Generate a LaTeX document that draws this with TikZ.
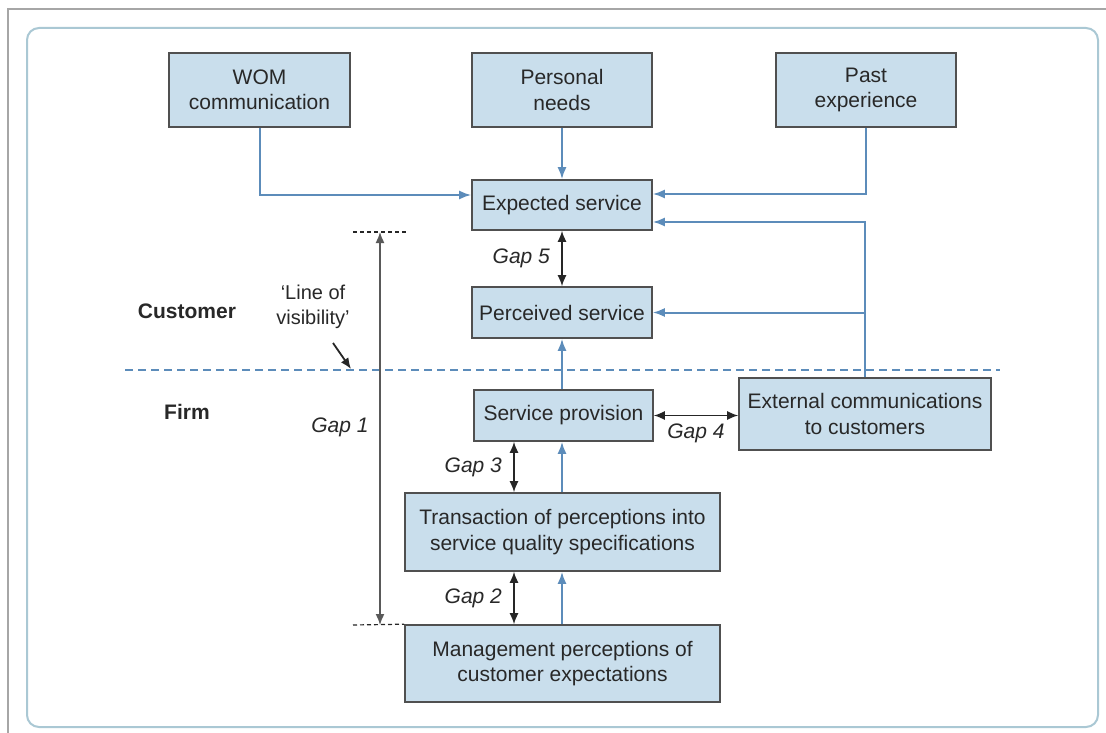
\documentclass[tikz,border=0pt]{standalone}
\usepackage{fontspec}
\setmainfont{Liberation Sans}
\usetikzlibrary{arrows.meta,calc}
\definecolor{boxfill}{RGB}{201,222,236}
\definecolor{boxline}{RGB}{80,80,80}
\definecolor{conblue}{RGB}{92,140,186}
\definecolor{frameblue}{RGB}{170,200,212}
\definecolor{txt}{RGB}{40,40,40}
\begin{document}
\begin{tikzpicture}[x=1pt,y=-1pt,
  every node/.style={text=txt,font=\fontsize{21}{25.5}\selectfont},
  sbox/.style={draw=boxline,line width=1.6pt,fill=boxfill,inner sep=0pt,align=center},
  bluecon/.style={draw=conblue,line width=2pt,-{Latex[length=12pt,width=9pt]}},
  gaparrow/.style={draw=black!85,line width=1.5pt,{Latex[length=11pt,width=9pt]}-{Latex[length=11pt,width=9pt]}},
  gaplabel/.style={font=\fontsize{21}{25}\selectfont\itshape},
  sidelabel/.style={font=\fontsize{21}{25}\selectfont\bfseries}]
\useasboundingbox (0,0) rectangle (1106,733);
\fill[white] (0,0) rectangle (1106,733);
% outer screenshot frame
\draw[gray!70,line width=1.5pt] (8,733) -- (8,9) -- (1106,9);
% rounded panel
\draw[frameblue,line width=2pt,rounded corners=12pt] (27,28) rectangle (1098,727);

% boxes
\node[sbox,minimum width=181pt,minimum height=74pt] (wom) at (259.5,90) {WOM\\communication};
\node[sbox,minimum width=180pt,minimum height=74pt] (pers) at (562,90) {Personal\\needs};
\node[sbox,minimum width=180pt,minimum height=74pt] (past) at (866,90) {Past\\experience};
\node[sbox,minimum width=180pt,minimum height=50pt] (exp) at (562,205) {Expected service};
\node[sbox,minimum width=180pt,minimum height=51pt] (perc) at (562,312.5) {Perceived service};
\node[sbox,minimum width=179pt,minimum height=51pt] (prov) at (563.5,415.5) {Service provision};
\node[sbox,minimum width=252pt,minimum height=72pt] (ext) at (865,414) {External communications\\to customers};
\node[sbox,minimum width=315pt,minimum height=78pt] (trans) at (562.5,532) {Transaction of perceptions into\\service quality specifications};
\node[sbox,minimum width=315pt,minimum height=77pt] (mgmt) at (562.5,663.5) {Management perceptions of\\customer expectations};

% line of visibility
\draw[conblue,line width=2.5pt,dash pattern=on 8pt off 5pt] (125,370) -- (1000,370);

% blue connectors
\coordinate (expL) at (exp.west |- 0,195);
\coordinate (expR1) at (exp.east |- 0,194);
\coordinate (expR2) at (exp.east |- 0,222);
\coordinate (percR) at (perc.east);
\draw[bluecon] (wom.south) |- (expL);
\draw[bluecon] (pers.south) -- (exp.north);
\draw[bluecon] (past.south) |- (expR1);
\draw[bluecon] (ext.north) |- (expR2);
\draw[bluecon] (ext.north |- percR) -- (percR);
\draw[bluecon] (prov.north -| perc.south) -- (perc.south);
\draw[bluecon] (trans.north -| perc.south) -- (prov.south -| perc.south);
\draw[bluecon] (mgmt.north -| perc.south) -- (trans.south -| perc.south);

% gap arrows
\draw[gaparrow] (exp.south) -- (perc.north) node[pos=0.5,left=8pt,gaplabel] {Gap 5};
\draw[gaparrow] (prov.east) -- (prov.east -| ext.west) node[pos=0.5,below=4pt,gaplabel] {Gap 4};
\draw[gaparrow] (prov.south -| 514,0) -- (trans.north -| 514,0) node[pos=0.5,left=8pt,gaplabel] {Gap 3};
\draw[gaparrow] (trans.south -| 514,0) -- (mgmt.north -| 514,0) node[pos=0.5,left=8pt,gaplabel] {Gap 2};

% gap 1
\coordinate (g1top) at (380,232);
\coordinate (g1bot) at (380,625);
\draw[black!85,line width=1.2pt,dash pattern=on 4pt off 3pt] (353,232) -- (407,232);
\draw[black!85,line width=1.2pt,dash pattern=on 4pt off 3pt] (353,625) -- (mgmt.north west);
\draw[gaparrow,draw=black!65] (g1top) -- (g1bot);
\node[gaplabel] (gap1) at (340,427) {Gap 1};

% side labels
\node[sidelabel] (cust) at (187,311) {Customer};
\node[sidelabel] (firm) at (187,412) {Firm};
\node[align=center,font=\fontsize{20}{25}\selectfont] (lov) at (313,307) {‘Line of\\visibility’};
\coordinate (lovtip) at (351,369);
\draw[black!85,line width=1.8pt,-{Latex[length=11pt,width=9pt]}] (333,343) -- (lovtip);
\end{tikzpicture}
\end{document}
